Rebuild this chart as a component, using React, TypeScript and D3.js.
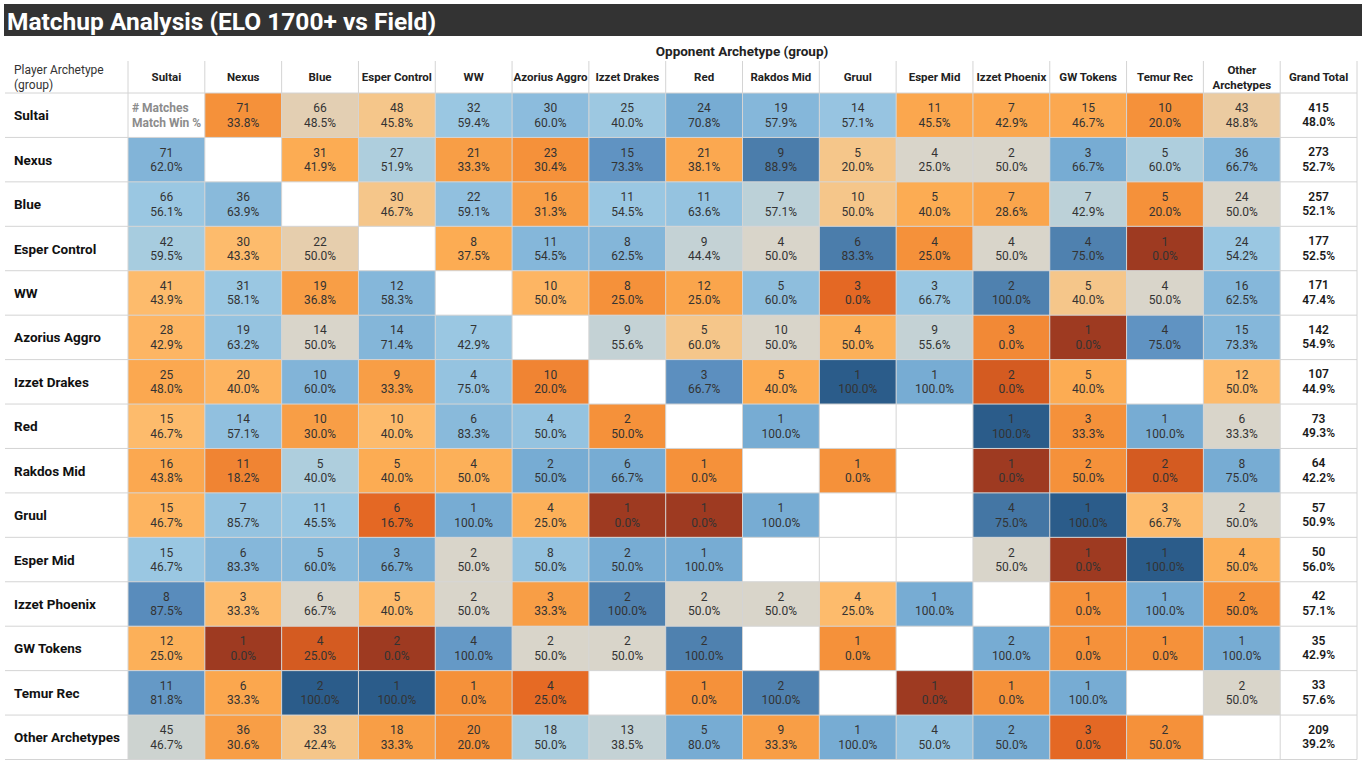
import * as d3 from 'd3';

// Row / column archetypes (same order on both axes)
const ARCHETYPES = [
  'Sultai', 'Nexus', 'Blue', 'Esper Control', 'WW', 'Azorius Aggro', 'Izzet Drakes', 'Red',
  'Rakdos Mid', 'Gruul', 'Esper Mid', 'Izzet Phoenix', 'GW Tokens', 'Temur Rec', 'Other Archetypes',
];
const COLUMN_LABELS = [
  'Sultai', 'Nexus', 'Blue', 'Esper Control', 'WW', 'Azorius Aggro', 'Izzet Drakes', 'Red',
  'Rakdos Mid', 'Gruul', 'Esper Mid', 'Izzet Phoenix', 'GW Tokens', 'Temur Rec', 'Other\nArchetypes',
  'Grand Total',
];

// # matches (row player vs column opponent)
const MATCHES: (number | null)[][] = [
  [null, 71, 66, 48, 32, 30, 25, 24, 19, 14, 11, 7, 15, 10, 43],
  [71, null, 31, 27, 21, 23, 15, 21, 9, 5, 4, 2, 3, 5, 36],
  [66, 36, null, 30, 22, 16, 11, 11, 7, 10, 5, 7, 7, 5, 24],
  [42, 30, 22, null, 8, 11, 8, 9, 4, 6, 4, 4, 4, 1, 24],
  [41, 31, 19, 12, null, 10, 8, 12, 5, 3, 3, 2, 5, 4, 16],
  [28, 19, 14, 14, 7, null, 9, 5, 10, 4, 9, 3, 1, 4, 15],
  [25, 20, 10, 9, 4, 10, null, 3, 5, 1, 1, 2, 5, null, 12],
  [15, 14, 10, 10, 6, 4, 2, null, 1, null, null, 1, 3, 1, 6],
  [16, 11, 5, 5, 4, 2, 6, 1, null, 1, null, 1, 2, 2, 8],
  [15, 7, 11, 6, 1, 4, 1, 1, 1, null, null, 4, 1, 3, 2],
  [15, 6, 5, 3, 2, 8, 2, 1, null, null, null, 2, 1, 1, 4],
  [8, 3, 6, 5, 2, 3, 2, 2, 2, 4, 1, null, 1, 1, 2],
  [12, 1, 4, 2, 4, 2, 2, 2, null, 1, null, 2, 1, 1, 1],
  [11, 6, 2, 1, 1, 4, null, 1, 2, null, 1, 1, 1, null, 2],
  [45, 36, 33, 18, 20, 18, 13, 5, 9, 1, 4, 2, 3, 2, null],
];

// Match win %
const WIN_PCT: (number | null)[][] = [
  [null, 33.8, 48.5, 45.8, 59.4, 60.0, 40.0, 70.8, 57.9, 57.1, 45.5, 42.9, 46.7, 20.0, 48.8],
  [62.0, null, 41.9, 51.9, 33.3, 30.4, 73.3, 38.1, 88.9, 20.0, 25.0, 50.0, 66.7, 60.0, 66.7],
  [56.1, 63.9, null, 46.7, 59.1, 31.3, 54.5, 63.6, 57.1, 50.0, 40.0, 28.6, 42.9, 20.0, 50.0],
  [59.5, 43.3, 50.0, null, 37.5, 54.5, 62.5, 44.4, 50.0, 83.3, 25.0, 50.0, 75.0, 0.0, 54.2],
  [43.9, 58.1, 36.8, 58.3, null, 50.0, 25.0, 25.0, 60.0, 0.0, 66.7, 100.0, 40.0, 50.0, 62.5],
  [42.9, 63.2, 50.0, 71.4, 42.9, null, 55.6, 60.0, 50.0, 50.0, 55.6, 0.0, 0.0, 75.0, 73.3],
  [48.0, 40.0, 60.0, 33.3, 75.0, 20.0, null, 66.7, 40.0, 100.0, 100.0, 0.0, 40.0, null, 50.0],
  [46.7, 57.1, 30.0, 40.0, 83.3, 50.0, 50.0, null, 100.0, null, null, 100.0, 33.3, 100.0, 33.3],
  [43.8, 18.2, 40.0, 40.0, 50.0, 50.0, 66.7, 0.0, null, 0.0, null, 0.0, 50.0, 0.0, 75.0],
  [46.7, 85.7, 45.5, 16.7, 100.0, 25.0, 0.0, 0.0, 100.0, null, null, 75.0, 100.0, 66.7, 50.0],
  [46.7, 83.3, 60.0, 66.7, 50.0, 50.0, 50.0, 100.0, null, null, null, 50.0, 0.0, 100.0, 50.0],
  [87.5, 33.3, 66.7, 40.0, 50.0, 33.3, 100.0, 50.0, 50.0, 25.0, 100.0, null, 0.0, 100.0, 50.0],
  [25.0, 0.0, 25.0, 0.0, 100.0, 50.0, 50.0, 100.0, null, 0.0, null, 100.0, 0.0, 0.0, 100.0],
  [81.8, 33.3, 100.0, 100.0, 0.0, 25.0, null, 0.0, 100.0, null, 0.0, 0.0, 100.0, null, 50.0],
  [46.7, 30.6, 42.4, 33.3, 20.0, 50.0, 38.5, 80.0, 33.3, 100.0, 50.0, 50.0, 0.0, 50.0, null],
];

// Colour measure (diverging, -1 .. 1), estimated from the cell shading
const COLOR_SCORE: (number | null)[][] = [
  [null, -0.45, -0.06, -0.13, 0.3, 0.38, 0.28, 0.55, 0.42, 0.32, -0.33, -0.33, -0.32, -0.45, -0.09],
  [0.45, null, -0.3, 0.15, -0.38, -0.45, 0.68, -0.32, 0.82, -0.13, 0, 0, 0.55, 0.15, 0.42],
  [0.3, 0.4, null, -0.13, 0.35, -0.38, 0.3, 0.33, 0.1, -0.13, -0.3, -0.34, 0.1, -0.45, 0],
  [0.2, -0.22, -0.07, null, -0.3, 0.42, 0.43, 0.07, 0, 0.82, -0.45, 0, 0.8, -1, 0.3],
  [-0.22, 0.3, -0.38, 0.42, null, -0.25, -0.45, -0.34, 0.37, -0.62, 0.3, 0.8, -0.13, 0, 0.42],
  [-0.25, 0.33, 0, 0.43, 0.3, null, 0.07, -0.13, 0, -0.28, 0.07, -0.48, -1, 0.68, 0.42],
  [-0.32, -0.26, 0.45, -0.38, 0.33, -0.5, null, 0.7, -0.3, 1, 0.55, -0.75, -0.3, null, -0.22],
  [-0.22, 0.35, -0.38, -0.22, 0.4, 0.33, -0.45, null, 0.55, null, null, 1, -0.45, 0.55, 0],
  [-0.32, -0.5, 0.15, -0.3, -0.28, 0.55, 0.55, -0.45, null, -0.45, null, -1, -0.45, -0.75, 0.55],
  [-0.26, 0.33, 0.3, -0.62, 0.55, -0.28, -1, -1, 0.55, null, null, 0.86, 1, -0.22, 0],
  [0.3, 0.42, 0.4, 0.55, 0, 0.33, 0.55, 0.55, null, null, null, 0, -1, 1, -0.28],
  [0.72, -0.22, 0, -0.22, 0, -0.38, 0.8, 0, 0, -0.22, 0.55, null, -0.45, 0.55, -0.45],
  [-0.28, -1, -0.75, -1, 0.65, 0, 0, 0.8, null, -0.45, null, 0.55, -0.45, -0.45, 0.55],
  [0.65, -0.33, 1, 1, -0.45, -0.6, null, -0.45, 0.8, null, -1, -0.45, 0.55, null, 0],
  [0.04, -0.38, -0.13, -0.38, -0.45, 0.18, 0.07, 0.55, -0.38, 0.55, 0.33, 0.55, -0.62, -0.45, null],
];

const TOTAL_MATCHES = [415, 273, 257, 177, 171, 142, 107, 73, 64, 57, 50, 42, 35, 33, 209];
const TOTAL_WIN_PCT = [48.0, 52.7, 52.1, 52.5, 47.4, 54.9, 44.9, 49.3, 42.2, 50.9, 56.0, 57.1, 42.9, 57.6, 39.2];

const FONT = 'Roboto, "Noto Sans", sans-serif';

// orange-blue diverging palette
const color = d3.scaleLinear<string>()
  .domain([-1, -0.75, -0.6, -0.45, -0.3, -0.22, -0.13, -0.06, 0, 0.07, 0.15, 0.3, 0.42, 0.55, 0.7, 0.8, 1])
  .range(['#9e3a21', '#d45b21', '#e66a24', '#f5913a', '#fcac53', '#fdbb6c', '#f5c68a', '#e3cfb3', '#d9d5ca',
    '#c4d2d5', '#aecedd', '#9ac7e2', '#85b7da', '#77acd3', '#5c8fbf', '#4f81af', '#2b5c8a'])
  .clamp(true);

export default function App() {
  const W = 1366;
  const H = 768;
  const gridLeft = 128;
  const gridRight = 1357;
  const headerTop = 61;
  const headerBottom = 93;
  const gridBottom = 759.5;

  const x = d3.scaleBand<number>()
    .domain(d3.range(COLUMN_LABELS.length))
    .range([gridLeft, gridRight]);
  const y = d3.scaleBand<number>()
    .domain(d3.range(ARCHETYPES.length))
    .range([headerBottom, gridBottom]);
  const cw = x.bandwidth();
  const rh = y.bandwidth();
  const lineColor = '#d4d4d4';

  return (
    <svg width={W} height={H} style={{ position: 'absolute', left: 0, top: 0, background: '#fff' }} fontFamily={FONT}>
      {/* Title bar */}
      <rect x={4} y={4} width={1358} height={32} fill="#333333" />
      <text x={7} y={21} dominantBaseline="central" fontSize={24.5} fontWeight={700} fill="#fff">
        Matchup Analysis (ELO 1700+ vs Field)
      </text>

      <text x={742} y={51} textAnchor="middle" dominantBaseline="central" fontSize={13.5} fontWeight={700} fill="#222">
        Opponent Archetype (group)
      </text>

      {/* Row header title */}
      <g fontSize={12} fill="#333">
        <text x={14} y={70} dominantBaseline="central">Player Archetype</text>
        <text x={14} y={85} dominantBaseline="central">(group)</text>
      </g>

      {/* Cells */}
      {ARCHETYPES.map((_, ri) =>
        MATCHES[ri].map((n, ci) => {
          const score = COLOR_SCORE[ri][ci];
          if (n == null || score == null) return null;
          return (
            <rect key={`c${ri}-${ci}`} x={x(ci)!} y={y(ri)!} width={cw} height={rh} fill={color(score)} />
          );
        })
      )}

      {/* Grid lines */}
      {d3.range(ARCHETYPES.length + 1).map(i => {
        const yy = i < ARCHETYPES.length ? y(i)! : gridBottom;
        return <line key={`h${i}`} x1={5} x2={gridRight} y1={yy} y2={yy} stroke={lineColor} strokeWidth={1} />;
      })}
      {d3.range(COLUMN_LABELS.length + 1).map(i => {
        const xx = i < COLUMN_LABELS.length ? x(i)! : gridRight;
        return <line key={`v${i}`} x1={xx} x2={xx} y1={headerTop} y2={gridBottom} stroke={lineColor} strokeWidth={1} />;
      })}

      {/* Column headers */}
      {COLUMN_LABELS.map((label, ci) => {
        const cx = x(ci)! + cw / 2;
        const lines = label.split('\n');
        return (
          <g key={`ch${ci}`} textAnchor="middle" fontSize={11.5} fontWeight={700} fill="#222">
            {lines.map((l, li) => (
              <text key={li} x={cx} y={77 + (li - (lines.length - 1) / 2) * 15} dominantBaseline="central">{l}</text>
            ))}
          </g>
        );
      })}

      {/* Row labels */}
      {ARCHETYPES.map((label, ri) => (
        <text key={`rl${ri}`} x={14} y={y(ri)! + rh / 2} dominantBaseline="central" fontSize={13.5} fontWeight={700} fill="#111">
          {label}
        </text>
      ))}

      {/* Cell texts */}
      {ARCHETYPES.map((_, ri) =>
        MATCHES[ri].map((n, ci) => {
          const p = WIN_PCT[ri][ci];
          if (n == null || p == null) return null;
          const cx = x(ci)! + cw / 2;
          const cy = y(ri)! + rh / 2;
          return (
            <g key={`t${ri}-${ci}`} fontSize={12} fill="#333" textAnchor="middle">
              <text x={cx} y={cy - 7} dominantBaseline="central">{n}</text>
              <text x={cx} y={cy + 7.5} dominantBaseline="central">{p.toFixed(1)}%</text>
            </g>
          );
        })
      )}

      {/* Legend in the empty Sultai/Sultai cell */}
      <g fontSize={12} fontWeight={700} fill="#8c8c8c">
        <text x={x(0)! + 4} y={y(0)! + rh / 2 - 7} dominantBaseline="central"># Matches</text>
        <text x={x(0)! + 4} y={y(0)! + rh / 2 + 7.5} dominantBaseline="central">Match Win %</text>
      </g>

      {/* Grand totals */}
      {TOTAL_MATCHES.map((n, ri) => {
        const cx = x(COLUMN_LABELS.length - 1)! + cw / 2;
        const cy = y(ri)! + rh / 2;
        return (
          <g key={`gt${ri}`} fontSize={12} fontWeight={600} fill="#1a1a1a" textAnchor="middle">
            <text x={cx} y={cy - 7.5} dominantBaseline="central">{n}</text>
            <text x={cx} y={cy + 7} dominantBaseline="central">{TOTAL_WIN_PCT[ri].toFixed(1)}%</text>
          </g>
        );
      })}
    </svg>
  );
}
